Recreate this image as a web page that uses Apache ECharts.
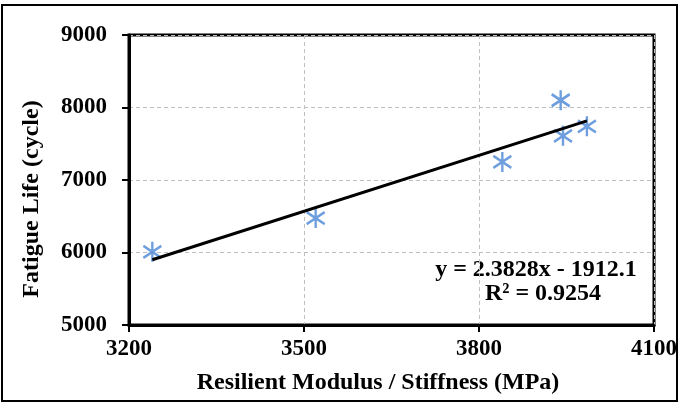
<!DOCTYPE html>
<html>
<head>
<meta charset="utf-8">
<style>html,body{margin:0;padding:0;background:#fff;}#c{width:680px;height:403px;}</style>
<script src="https://cdn.jsdelivr.net/npm/echarts@6/dist/echarts.min.js"></script>
</head>
<body>
<div id="c"></div>
<script>
const modulus = [3240, 3520, 3840, 3940, 3944, 3985];
const fatigueLife = [6010, 6475, 7250, 8100, 7610, 7740];
const trendX = [3240, 3985];
const trendY = [5900, 7815];
const xTicks = [3200, 3500, 3800, 4100];
const yTicks = [5000, 6000, 7000, 8000, 9000];
const xTitle = 'Resilient Modulus / Stiffness (MPa)';
const yTitle = 'Fatigue Life (cycle)';
const eqLine1 = 'y = 2.3828x - 1912.1';
const eqLine2 = 'R² = 0.9254';

const font = '"Liberation Serif","Times New Roman",serif';
const chart = echarts.init(document.getElementById('c'), null, {renderer: 'canvas'});
const star = 'path://M0,-10 L0,10 M-9,-6 L9,6 M-9,6 L9,-6';
chart.setOption({
  animation: false,
  grid: {left: 129, right: 24, top: 35, bottom: 78, show: true, borderColor: '#000', borderWidth: 3},
  xAxis: {
    type: 'value', min: xTicks[0], max: xTicks[xTicks.length - 1], interval: 300,
    axisLine: {show: true, lineStyle: {color: '#000', width: 3}},
    axisTick: {show: true, inside: false, length: 7, lineStyle: {color: '#000', width: 2}},
    splitLine: {show: true, lineStyle: {color: '#bfbfbf', type: [4, 3], width: 1}},
    axisLabel: {color: '#000', fontFamily: font, fontWeight: 'bold', fontSize: 23, margin: 13,
      formatter: v => String(v)}
  },
  yAxis: {
    type: 'value', min: yTicks[0], max: yTicks[yTicks.length - 1], interval: 1000,
    axisLine: {show: true, lineStyle: {color: '#000', width: 3}},
    axisTick: {show: true, inside: false, length: 7, lineStyle: {color: '#000', width: 2}},
    splitLine: {show: true, lineStyle: {color: '#bfbfbf', type: [4, 3], width: 1}},
    axisLabel: {color: '#000', fontFamily: font, fontWeight: 'bold', fontSize: 23, margin: 22,
      formatter: v => String(v)}
  },
  series: [
    {
      type: 'scatter', data: modulus.map((x, i) => [x, fatigueLife[i]]),
      symbol: star, symbolSize: [18, 20],
      itemStyle: {color: 'rgba(0,0,0,0)', borderColor: '#4a86d6', borderWidth: 2.5},
      z: 3
    },
    {
      type: 'line', data: trendX.map((x, i) => [x, trendY[i]]),
      symbol: 'none', lineStyle: {color: '#000', width: 3}, z: 4
    }
  ],
  graphic: [
    {type: 'rect', shape: {x: 2, y: 5, width: 675, height: 396}, style: {fill: 'none', stroke: '#000', lineWidth: 2}, silent: true},
    {type: 'text', x: 378, y: 383, style: {text: xTitle, font: 'bold 24px ' + font, fill: '#000', textAlign: 'center', textVerticalAlign: 'middle'}},
    {type: 'text', x: 32, y: 199, rotation: Math.PI / 2, style: {text: yTitle, font: 'bold 24px ' + font, fill: '#000', textAlign: 'center', textVerticalAlign: 'middle'}},
    {type: 'text', x: 536, y: 270, style: {text: eqLine1, font: 'bold 24px ' + font, fill: '#000', textAlign: 'center', textVerticalAlign: 'middle'}},
    {type: 'text', x: 543, y: 294, style: {text: eqLine2, font: 'bold 24px ' + font, fill: '#000', textAlign: 'center', textVerticalAlign: 'middle'}}
  ]
});
</script>
</body>
</html>
